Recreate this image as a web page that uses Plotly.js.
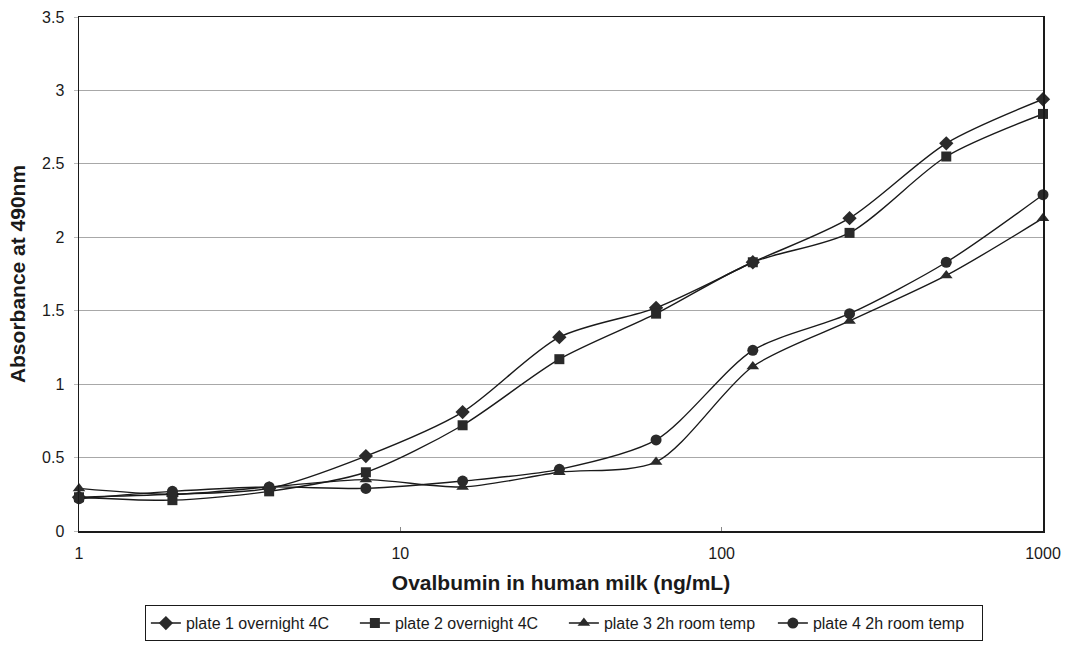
<!DOCTYPE html>
<html>
<head>
<meta charset="utf-8">
<script src="https://cdn.plot.ly/plotly-3.0.1.min.js"></script>
<style>html,body{margin:0;padding:0;background:#fff;}#chart{width:1070px;height:645px;}</style>
</head>
<body>
<div id="chart"></div>
<script>
var concentrations = [1, 1.953125, 3.90625, 7.8125, 15.625, 31.25, 62.5, 125, 250, 500, 1000];
var plate1 = [0.23, 0.25, 0.29, 0.51, 0.81, 1.32, 1.52, 1.83, 2.13, 2.64, 2.94];
var plate2 = [0.23, 0.21, 0.27, 0.40, 0.72, 1.17, 1.48, 1.83, 2.03, 2.55, 2.84];
var plate3 = [0.29, 0.25, 0.30, 0.35, 0.30, 0.40, 0.47, 1.12, 1.43, 1.74, 2.13];
var plate4 = [0.22, 0.27, 0.30, 0.29, 0.34, 0.42, 0.62, 1.23, 1.48, 1.83, 2.29];
var seriesNames = ["plate 1 overnight 4C", "plate 2 overnight 4C", "plate 3 2h room temp", "plate 4 2h room temp"];
var xTickVals = [1, 10, 100, 1000];
var xTickText = ["1", "10", "100", "1000"];
var yTickVals = [0, 0.5, 1, 1.5, 2, 2.5, 3, 3.5];
var yTickText = ["0", "0.5", "1", "1.5", "2", "2.5", "3", "3.5"];

var symbols = ["diamond", "square", "triangle-up", "circle"];
var sizes = [11, 10, 11, 11];
var datasets = [plate1, plate2, plate3, plate4];
var traces = datasets.map(function (d, i) {
  return {
    x: concentrations, y: d, name: seriesNames[i], type: "scatter", mode: "lines+markers",
    line: {color: "#1a1a1a", width: 1.4, shape: "spline", smoothing: 0.8},
    marker: {symbol: symbols[i], size: sizes[i], color: "#2a2a2a", line: {width: 0}},
    cliponaxis: false
  };
});

var layout = {
  width: 1070, height: 645,
  margin: {l: 79, r: 27, t: 17, b: 114},
  paper_bgcolor: "#fff", plot_bgcolor: "#fff",
  font: {family: "Liberation Sans, Arial, sans-serif", color: "#1a1a1a", size: 16},
  showlegend: true,
  legend: {
    orientation: "h", x: 0.527, xref: "container", xanchor: "center",
    y: 0.006, yref: "container", yanchor: "bottom",
    bordercolor: "#1a1a1a", borderwidth: 1, font: {size: 16},
    itemwidth: 30, tracegroupgap: 0, entrywidth: 164, entrywidthmode: "pixels"
  },
  xaxis: {
    type: "log", range: [0, 3],
    tickvals: xTickVals, ticktext: xTickText,
    showgrid: false, showline: true, linecolor: "#1a1a1a", linewidth: 1.5, mirror: true,
    ticks: "inside", ticklen: 4, tickcolor: "#888",
    tickfont: {size: 16}, ticklabelstandoff: 7,
    title: {text: "<b>Ovalbumin in human milk (ng/mL)</b>", font: {size: 21}, standoff: 14},
    zeroline: false
  },
  yaxis: {
    range: [0, 3.5],
    tickvals: yTickVals, ticktext: yTickText,
    showgrid: true, gridcolor: "#a8a8a8", gridwidth: 1,
    showline: true, linecolor: "#1a1a1a", linewidth: 1.5, mirror: true,
    ticks: "outside", ticklen: 4, tickcolor: "#bbb",
    tickfont: {size: 16}, ticklabelstandoff: 6,
    title: {text: "<b>Absorbance at 490nm</b>", font: {size: 21}, standoff: 10},
    zeroline: false
  }
};
Plotly.newPlot("chart", traces, layout, {displayModeBar: false, staticPlot: true});
</script>
</body>
</html>
